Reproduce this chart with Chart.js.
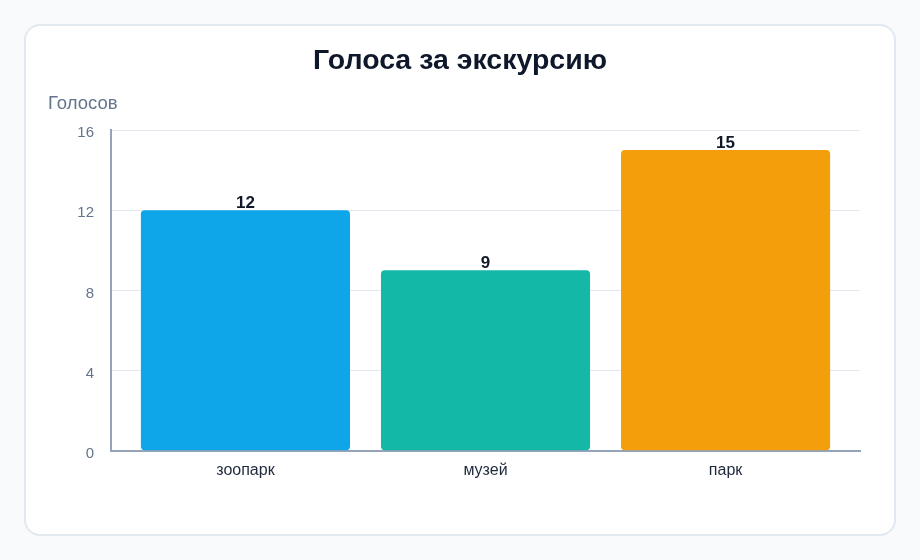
<!DOCTYPE html>
<html><head><meta charset="utf-8">
<script src="https://cdn.jsdelivr.net/npm/chart.js@4"></script>
<style>
html,body{margin:0;padding:0;background:#f8fafc;width:920px;height:560px;overflow:hidden;}
#card{position:absolute;left:24px;top:24px;width:868px;height:508px;background:#fff;border:2px solid #e2e8f0;border-radius:16px;}
#wrap{position:absolute;left:0;top:0;width:868px;height:508px;}
</style></head><body>
<div id="card"><div id="wrap"><canvas id="c"></canvas></div></div>
<script>
const categories = ['зоопарк', 'музей', 'парк'];
const votes = [12, 9, 15];
const barColors = ['#0ea5e9', '#14b8a6', '#f59e0b'];
const yTicks = [0, 4, 8, 12, 16];
const chartTitle = 'Голоса за экскурсию';
const yTitle = 'Голосов';
const FONT = '"Liberation Sans", Arial, Helvetica, sans-serif';

const labelsPlugin = {
  id: 'vals',
  afterDatasetsDraw(chart) {
    const ctx = chart.ctx;
    const meta = chart.getDatasetMeta(0);
    ctx.save();
    ctx.font = 'bold 17px ' + FONT;
    ctx.fillStyle = '#111827';
    ctx.textAlign = 'center';
    ctx.textBaseline = 'alphabetic';
    meta.data.forEach((bar, i) => {
      ctx.fillText(String(votes[i]), bar.x, bar.y - 2);
    });
    ctx.restore();
  }
};
const textPlugin = {
  id: 'texts',
  afterDraw(chart) {
    const ctx = chart.ctx;
    ctx.save();
    ctx.font = 'bold 28.5px ' + FONT;
    ctx.fillStyle = '#0f172a';
    ctx.textAlign = 'center';
    ctx.textBaseline = 'middle';
    ctx.fillText(chartTitle, chart.width / 2, 35);
    ctx.font = '18.5px ' + FONT;
    ctx.fillStyle = '#64748b';
    ctx.textAlign = 'left';
    ctx.textBaseline = 'alphabetic';
    ctx.fillText(yTitle, 22, chart.chartArea.top - 21);
    ctx.restore();
  }
};

new Chart(document.getElementById('c'), {
  type: 'bar',
  data: {
    datasets: [{
      data: votes.map((v, i) => ({ x: i, y: v })),
      backgroundColor: barColors,
      borderRadius: 4,
      borderSkipped: false,
      categoryPercentage: 0.871,
      barPercentage: 1
    }]
  },
  options: {
    responsive: true,
    maintainAspectRatio: false,
    animation: false,
    layout: { padding: { left: 20, right: 34, top: 104, bottom: 44 } },
    plugins: {
      legend: { display: false },
      tooltip: { enabled: false },
      title: { display: false }
    },
    scales: {
      x: {
        type: 'linear',
        offset: false,
        min: -0.56, max: 2.56,
        afterBuildTicks(scale) { scale.ticks = categories.map((c, i) => ({ value: i })); },
        grid: { display: false, drawTicks: false, offset: false },
        border: { display: true, color: '#94a3b8', width: 2 },
        ticks: {
          color: '#1e293b', font: { family: FONT, size: 16 }, padding: 10,
          callback: (v) => categories[v] ?? ''
        }
      },
      y: {
        min: 0, max: 16,
        afterFit(scale) { scale.width = 65; },
        afterBuildTicks(scale) { scale.ticks = yTicks.map(v => ({ value: v })); },
        grid: { color: '#e2e8f0', drawTicks: false },
        border: { display: true, color: '#94a3b8', width: 2 },
        ticks: { color: '#64748b', font: { family: FONT, size: 15 }, padding: 17, labelOffset: 3 }
      }
    }
  },
  plugins: [labelsPlugin, textPlugin]
});
</script>
</body></html>
